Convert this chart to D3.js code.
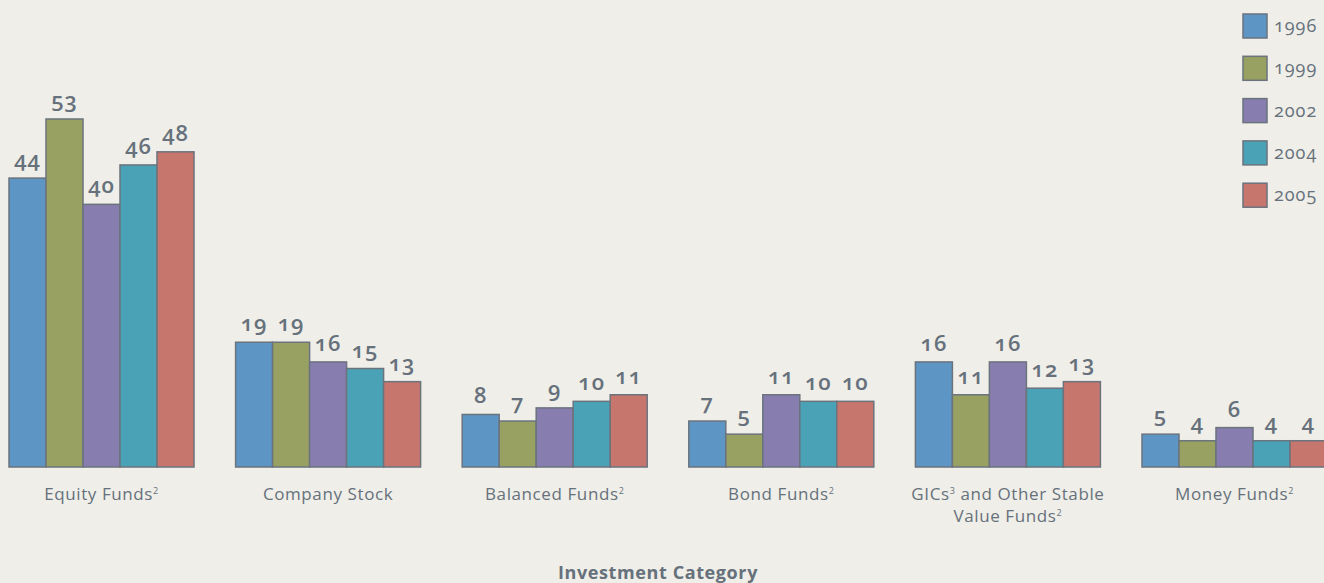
<!DOCTYPE html>
<html>
<head>
<meta charset="utf-8">
<script src="https://cdn.jsdelivr.net/npm/d3@7"></script>
<style>
    body { margin: 0; background: #efeee8; }
    svg { display: block; }
    text { font-family: "Open Sans", Lato, sans-serif; fill: #66717c; }
    .num { font-feature-settings: "onum" 1; font-variant-numeric: oldstyle-nums; }
</style>
</head>
<body>
<svg id="chart" width="1324" height="583"></svg>
<script>
    // data
    var categories = ['Equity Funds', 'Company Stock', 'Balanced Funds', 'Bond Funds', 'GICs and Other Stable Value Funds', 'Money Funds'];
    // label lines per category: [text, superscript] pieces
    var categoryLines = [
        [[['Equity Funds', '2']]],
        [[['Company Stock', '']]],
        [[['Balanced Funds', '2']]],
        [[['Bond Funds', '2']]],
        [[['GICs', '3'], [' and Other Stable', '']], [['Value Funds', '2']]],
        [[['Money Funds', '2']]]
    ];
    var years = ['1996', '1999', '2002', '2004', '2005'];
    var values1996 = [44, 19, 8, 7, 16, 5];
    var values1999 = [53, 19, 7, 5, 11, 4];
    var values2002 = [40, 16, 9, 11, 16, 6];
    var values2004 = [46, 15, 10, 10, 12, 4];
    var values2005 = [48, 13, 11, 10, 13, 4];
    var series = [values1996, values1999, values2002, values2004, values2005];
    var colors = ['#5d95c4', '#98a062', '#887daf', '#4aa2b6', '#c7766d'];

    var svg = d3.select('#chart');
    var baseline = 467;

    var x0 = d3.scaleBand()
        .domain(categories)
        .range([9, 1327])
        .paddingInner(0.1836)
        .paddingOuter(0);

    var x1 = d3.scaleBand()
        .domain(years)
        .range([0, x0.bandwidth()]);

    var y = d3.scaleLinear()
        .domain([0, 53])
        .range([baseline, baseline - 348]);

    var groups = svg.append('g').selectAll('g')
        .data(categories)
        .enter().append('g')
        .attr('transform', function(d) { return 'translate(' + x0(d) + ',0)'; });

    groups.selectAll('rect')
        .data(function(d, i) { return years.map(function(yr, j) { return { year: yr, value: series[j][i], idx: j }; }); })
        .enter().append('rect')
        .attr('x', function(d) { return x1(d.year); })
        .attr('y', function(d) { return y(d.value); })
        .attr('width', x1.bandwidth())
        .attr('height', function(d) { return baseline - y(d.value); })
        .attr('fill', function(d) { return colors[d.idx]; })
        .attr('stroke', '#6b737d')
        .attr('stroke-width', 1.5);

    groups.selectAll('text.val')
        .data(function(d, i) { return years.map(function(yr, j) { return { year: yr, value: series[j][i] }; }); })
        .enter().append('text')
        .attr('class', 'val num')
        .attr('x', function(d) { return x1(d.year) + x1.bandwidth() / 2; })
        .attr('y', function(d) { return y(d.value) - 11; })
        .attr('text-anchor', 'middle')
        .style('font-size', '22px')
        .style('font-weight', '600')
        .style('letter-spacing', '1px')
        .text(function(d) { return d.value; });

    // category labels
    groups.each(function(d, i) {
        var g = d3.select(this);
        categoryLines[i].forEach(function(parts, k) {
            var t = g.append('text')
                .attr('x', x0.bandwidth() / 2)
                .attr('y', 500 + k * 22)
                .attr('text-anchor', 'middle')
                .style('font-size', '17px')
                .style('letter-spacing', '0.6px');
            var shift = 0;
            parts.forEach(function(p) {
                t.append('tspan').attr('dy', shift).text(p[0]);
                shift = 0;
                if (p[1]) {
                    t.append('tspan')
                        .attr('dy', -6)
                        .style('font-size', '9px')
                        .text(p[1]);
                    shift = 6;
                }
            });
        });
    });

    svg.append('text')
        .attr('x', 658)
        .attr('y', 579)
        .attr('text-anchor', 'middle')
        .style('font-size', '18px')
        .style('font-weight', 'bold')
        .style('letter-spacing', '0.6px')
        .text('Investment Category');

    // legend
    var legend = svg.append('g').selectAll('g')
        .data(years)
        .enter().append('g')
        .attr('transform', function(d, i) { return 'translate(1243,' + (14 + i * 42.3) + ')'; });

    legend.append('rect')
        .attr('width', 24)
        .attr('height', 24)
        .attr('fill', function(d, i) { return colors[i]; })
        .attr('stroke', '#6b737d')
        .attr('stroke-width', 1.5);

    legend.append('text')
        .attr('class', 'num')
        .attr('x', 31)
        .attr('y', 18)
        .style('font-size', '18px')
        .style('letter-spacing', '1px')
        .text(function(d) { return d; });
</script>
</body>
</html>
